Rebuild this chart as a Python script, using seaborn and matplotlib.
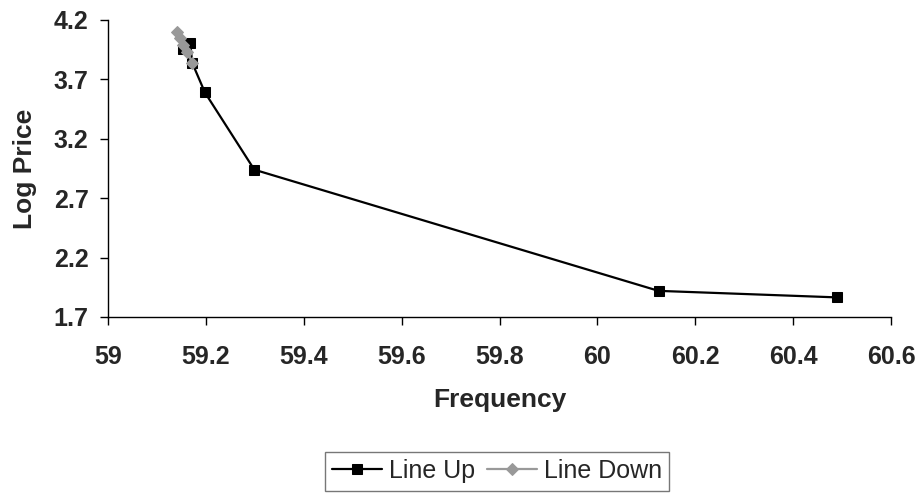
import matplotlib
matplotlib.use("Agg")
import matplotlib.pyplot as plt
import seaborn as sns
import pandas as pd

up_x = [59.153, 59.168, 59.172, 59.198, 59.299, 60.125, 60.49]
up_y = [3.96, 4.01, 3.84, 3.59, 2.94, 1.92, 1.865]
down_x = [59.141, 59.147, 59.153, 59.162, 59.172]
down_y = [4.10, 4.05, 3.99, 3.93, 3.84]
x_ticks = [59, 59.2, 59.4, 59.6, 59.8, 60, 60.2, 60.4, 60.6]
x_labels = ["59", "59.2", "59.4", "59.6", "59.8", "60", "60.2", "60.4", "60.6"]
y_ticks = [1.7, 2.2, 2.7, 3.2, 3.7, 4.2]
y_labels = ["1.7", "2.2", "2.7", "3.2", "3.7", "4.2"]

sns.set_style("white")
plt.rcParams['font.family'] = ['Liberation Sans', 'DejaVu Sans']

df_up = pd.DataFrame({"x": up_x, "y": up_y})
df_down = pd.DataFrame({"x": down_x, "y": down_y})

W, H = 920, 494
fig = plt.figure(figsize=(W / 100, H / 100), dpi=100)
ax = fig.add_axes([108 / W, 1 - 317 / H, (891 - 108) / W, (317 - 20) / H])

sns.lineplot(data=df_up, x="x", y="y", ax=ax, sort=False, color="black", lw=1.6,
             marker="s", markersize=7, markeredgecolor="black", label="Line Up")
sns.lineplot(data=df_down, x="x", y="y", ax=ax, sort=False, color="#999999", lw=1.6,
             marker="D", markersize=6, markeredgecolor="#999999", label="Line Down")

ax.set_xlim(59, 60.6)
ax.set_ylim(1.7, 4.2)
ax.tick_params(axis="both", which="major", bottom=True, left=True, direction="out",
               length=6, width=1, color="black")
ax.tick_params(axis="x", pad=14)
ax.tick_params(axis="y", pad=8)
ax.set_xticks(x_ticks)
ax.set_xticklabels(x_labels, fontsize=18, fontweight="bold")
ax.set_yticks(y_ticks)
ax.set_yticklabels(y_labels, fontsize=18, fontweight="bold")
ax.set_xlabel("Frequency", fontsize=19, fontweight="bold", labelpad=14)
ax.set_ylabel("Log Price", fontsize=19, fontweight="bold", labelpad=12)
sns.despine(ax=ax)
for s in ["left", "bottom"]:
    ax.spines[s].set_color("black")
    ax.spines[s].set_linewidth(1)

leg = ax.legend(loc="center", bbox_to_anchor=(497 / W, 1 - 471 / H), bbox_transform=fig.transFigure,
                ncol=2, fontsize=18, frameon=True, fancybox=False, handlelength=2.0,
                handletextpad=0.25, columnspacing=0.5, borderpad=0.3, borderaxespad=0)
leg.get_frame().set_edgecolor("#555555")
leg.get_frame().set_linewidth(1)

fig.savefig("out.png", dpi=100)
